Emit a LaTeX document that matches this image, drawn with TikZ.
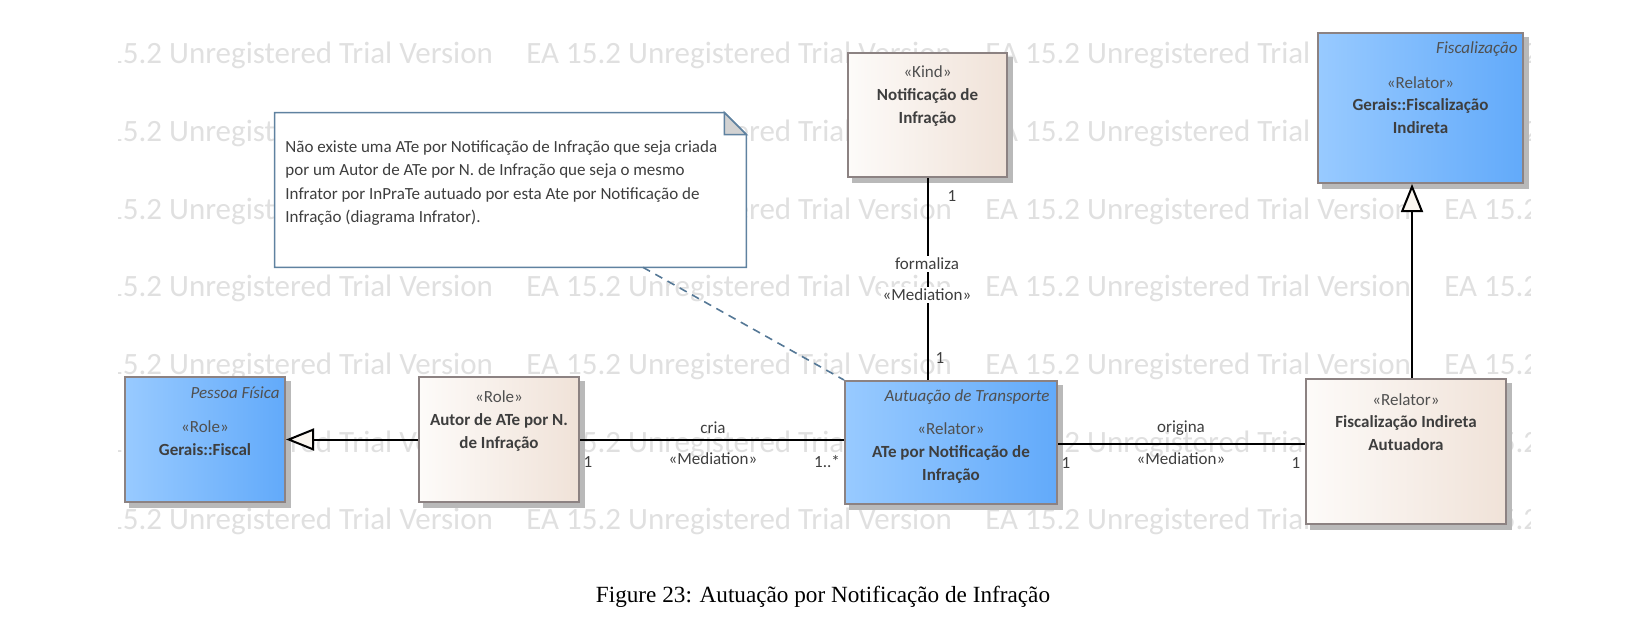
\documentclass[tikz,border=0pt]{standalone}
\usepackage{fontspec}
\setmainfont{Carlito}
\newfontfamily\capfont{Liberation Serif}
\usetikzlibrary{arrows.meta,calc}
\pgfdeclarelayer{wmlayer}
\pgfdeclarelayer{shadowlayer}
\pgfsetlayers{wmlayer,shadowlayer,main}
\definecolor{bluel}{RGB}{152,202,255}
\definecolor{bluer}{RGB}{98,170,250}
\definecolor{creaml}{RGB}{253,251,249}
\definecolor{creamr}{RGB}{240,226,216}
\definecolor{boxborder}{RGB}{140,130,130}
\definecolor{shadowc}{RGB}{185,185,185}
\definecolor{txtc}{RGB}{62,62,62}
\definecolor{stc}{RGB}{80,80,80}
\definecolor{wmc}{RGB}{224,224,224}
\definecolor{notec}{RGB}{95,130,160}
\definecolor{foldc}{RGB}{210,210,210}
\definecolor{dashc}{RGB}{85,120,150}
\definecolor{trifill}{RGB}{250,246,240}
\begin{document}
\begin{tikzpicture}[x=0.5pt,y=-0.5pt,
  basebox/.style={draw=boxborder, line width=1pt, inner sep=0pt},
  bluebox/.style={basebox, left color=bluel, right color=bluer},
  creambox/.style={basebox, left color=creaml, right color=creamr},
  boxtext/.style={font=\fontsize{8.5}{11.4}\selectfont, text=txtc, align=center, inner sep=0pt},
  pkgtext/.style={font=\fontsize{8.5}{11.4}\selectfont\itshape, text=stc, inner sep=0pt, anchor=east},
  lab/.style={font=\fontsize{8.5}{11.4}\selectfont, text=txtc, inner sep=0pt},
  wlab/.style={lab, fill=white, inner sep=1pt},
  wm/.style={font=\fontsize{15.5}{18}\selectfont, text=wmc, inner sep=0pt, anchor=west},
  conn/.style={line width=1pt, draw=black},
  genarrow/.style={conn, -{Triangle[length=14pt, width=11pt, fill=trifill]}},
  notelink/.style={draw=dashc, line width=0.8pt, dash pattern=on 4pt off 3pt}
]
\useasboundingbox (0,0) rectangle (1652,616);

% watermark
\begin{pgfonlayer}{wmlayer}
\begin{scope}
\clip (118,0) rectangle (1530,616);
\foreach \yy in {55,133,211,288,366,444,521}{
  \foreach \xx in {67,526,985,1444}{
    \node[wm] (wm-\xx-\yy) at (\xx,\yy) {EA 15.2 Unregistered Trial Version};
  }
}
\end{scope}
\end{pgfonlayer}

% boxes
\node[bluebox, minimum width=80pt, minimum height=62.5pt] (fiscal) at (205,439.5) {};
\node[creambox, minimum width=80pt, minimum height=62.5pt] (autor) at (499,439.5) {};
\node[bluebox, minimum width=106pt, minimum height=61.5pt] (ate) at (951,442.5) {};
\node[creambox, minimum width=79.5pt, minimum height=62pt] (kind) at (927.5,115) {};
\node[creambox, minimum width=100pt, minimum height=72.5pt] (fia) at (1406,451.5) {};
\node[bluebox, minimum width=102.5pt, minimum height=75pt] (fi) at (1420.5,108) {};

\begin{pgfonlayer}{shadowlayer}
\foreach \b in {fiscal,autor,ate,kind,fia,fi}{
  \fill[shadowc] ($(\b.north west)+(5,5)$) rectangle ($(\b.south east)+(5,5)$);
}
\end{pgfonlayer}

% box texts
\node[pkgtext] (fiscal-pkg) at (280,393) {Pessoa Física};
\node[boxtext] (fiscal-t) at (205,438) {{\color{stc}«Role»}\\\textbf{Gerais::Fiscal}};

\node[boxtext] (autor-t) at (499,421) {{\color{stc}«Role»}\\\textbf{Autor de ATe por N.}\\\textbf{de Infração}};

\node[pkgtext] (ate-pkg) at (1050,397) {Autuação de Transporte};
\node[boxtext] (ate-t) at (951,453) {{\color{stc}«Relator»}\\\textbf{ATe por Notificação de}\\\textbf{Infração}};

\node[boxtext] (kind-t) at (927.5,96) {{\color{stc}«Kind»}\\\textbf{Notificação de}\\\textbf{Infração}};

\node[boxtext] (fia-t) at (1406,422) {{\color{stc}«Relator»}\\\textbf{Fiscalização Indireta}\\\textbf{Autuadora}};

\node[pkgtext] (fi-pkg) at (1518,49) {Fiscalização};
\node[boxtext] (fi-t) at (1420.5,105) {{\color{stc}«Relator»}\\\textbf{Gerais::Fiscalização}\\\textbf{Indireta}};

% note
\node[minimum width=235.5pt, minimum height=77pt, inner sep=0pt] (note) at (510.5,190) {};
\draw[draw=notec, line width=0.8pt, fill=white]
  (note.north west) -- ($(note.north east)+(-22,0)$) -- ($(note.north east)+(0,22)$)
  -- (note.south east) -- (note.south west) -- cycle;
\draw[draw=notec, line width=0.8pt, fill=foldc]
  ($(note.north east)+(-22,0)$) -- ($(note.north east)+(-22,22)$) -- ($(note.north east)+(0,22)$) -- cycle;
\node[lab, anchor=north west, align=left, font=\fontsize{8.5}{11.7}\selectfont] (note-t) at (285,140)
  {Não existe uma ATe por Notificação de Infração que seja criada\\
   por um Autor de ATe por N. de Infração que seja o mesmo\\
   Infrator por InPraTe autuado por esta Ate por Notificação de\\
   Infração (diagrama Infrator).};

% connectors
\draw[genarrow] (autor.west) -- (autor.west -| fiscal.east);
\draw[conn] (autor.east) -- (autor.east -| ate.west);
\draw[conn] ([yshift=-0.5pt]ate.east) -- ([yshift=-0.5pt]ate.east -| fia.west);
\draw[conn] (kind.south) -- (kind.south |- ate.north);
\draw[genarrow] ([xshift=3pt]fia.north) -- ([xshift=3pt]fia.north |- fi.south);
\draw[notelink] ($(note.south west)!0.781!(note.south east)$) -- (ate.north west);

% connector labels
\node[lab] (cria) at (713,428) {cria};
\node[lab] (cria-st) at (713,459) {«Mediation»};
\node[lab] (m1) at (588,462) {1};
\node[lab] (m2) at (827,462) {1..*};
\node[lab] (orig) at (1181,428) {origina};
\node[lab] (orig-st) at (1181,459) {«Mediation»};
\node[lab] (m3) at (1066,463) {1};
\node[lab] (m4) at (1296,463) {1};
\node[wlab] (form) at (927,264) {formaliza};
\node[wlab] (form-st) at (927,295) {«Mediation»};
\node[lab] (m5) at (952,196) {1};
\node[lab] (m6) at (940,358) {1};

% caption
\node[inner sep=0pt, font=\capfont\fontsize{11.6}{14}\selectfont] (caption) at (823,597) {Figure 23: Autuação por Notificação de Infração};
\end{tikzpicture}
\end{document}
